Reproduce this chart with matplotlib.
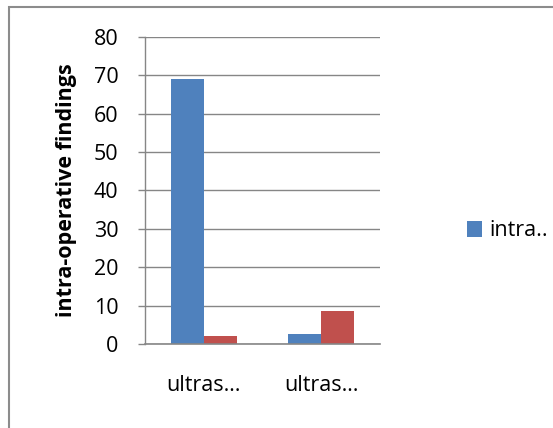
import matplotlib
matplotlib.use("Agg")
import matplotlib.pyplot as plt
from matplotlib.patches import Rectangle
import numpy as np

categories = ["ultras…", "ultras…"]
series_a = [69, 2.5]
series_b = [2, 8.5]
legend_label = "intra.."
y_ticks = [0, 10, 20, 30, 40, 50, 60, 70, 80]

plt.rcParams['font.family'] = ['Open Sans', 'DejaVu Sans']

W, H = 553, 428
fig = plt.figure(figsize=(W/100, H/100), dpi=100)

# outer frame
fig.patches.append(Rectangle((9/W, -0.05), 1.2, 1 - 7/H + 0.05, transform=fig.transFigure,
                             fill=False, edgecolor='#8c8c8c', linewidth=1.5))

ax = fig.add_axes([145/W, 1 - 344/H, (380-145)/W, (344-37)/H])
x = np.arange(len(categories))
bw = 0.28
ax.bar(x - bw/2, series_a, bw, color='#4F81BD', label=legend_label)
ax.bar(x + bw/2, series_b, bw, color='#C0504D')
ax.set_xlim(-0.5, len(categories) - 0.5)
ax.set_ylim(0, 80)
ax.set_yticks(y_ticks)
ax.set_yticklabels([str(v) for v in y_ticks], fontsize=15.5)
ax.set_xticks(x)
ax.set_xticklabels(categories, fontsize=15.5)
ax.tick_params(axis='x', length=0, pad=22)
ax.tick_params(axis='y', length=5, color='#868686', width=1, pad=14)
ax.grid(axis='y', color='#868686', linewidth=1)
ax.set_axisbelow(True)
for s in ['top', 'right']:
    ax.spines[s].set_visible(False)
ax.spines['left'].set_color('#868686')
ax.spines['bottom'].set_color('#868686')
ax.spines['left'].set_linewidth(1)
ax.spines['bottom'].set_linewidth(1.2)
ax.set_ylabel("intra-operative findings", fontsize=15.5, fontweight='bold', labelpad=12)

h, l = ax.get_legend_handles_labels()
fig.legend(h, l, loc='center left', bbox_to_anchor=(448/W, 1 - 231/H), frameon=False,
           fontsize=15.5, handlelength=0.7, handleheight=0.7, handletextpad=0.3)

fig.savefig("out.png", dpi=100)
